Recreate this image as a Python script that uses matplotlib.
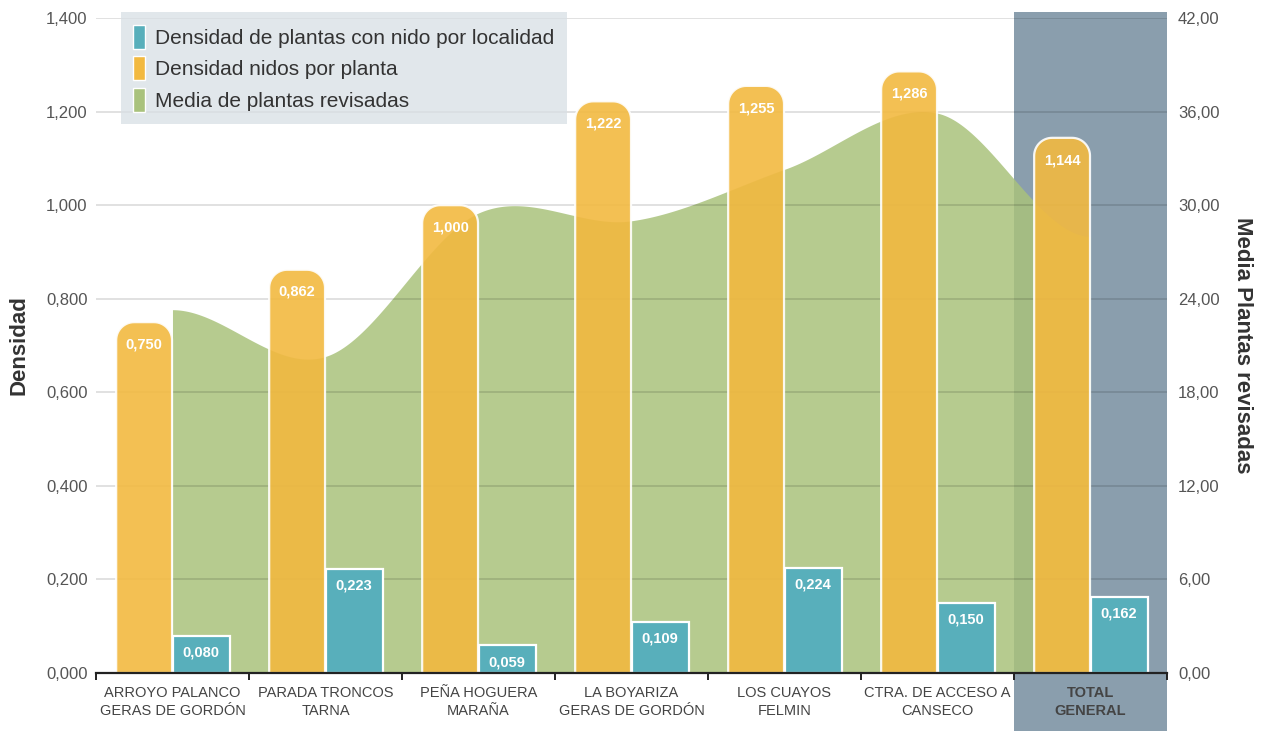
import numpy as np
import matplotlib
matplotlib.use("Agg")
import matplotlib.pyplot as plt
from matplotlib.patches import Patch, Polygon, Rectangle
import matplotlib.transforms as mtransforms

plt.rcParams['font.family'] = ['Liberation Sans', 'DejaVu Sans']

# data
localidades = ["ARROYO PALANCO\nGERAS DE GORDÓN", "PARADA TRONCOS\nTARNA",
               "PEÑA HOGUERA\nMARAÑA", "LA BOYARIZA\nGERAS DE GORDÓN",
               "LOS CUAYOS\nFELMIN", "CTRA. DE ACCESO A\nCANSECO", "TOTAL\nGENERAL"]
dens_localidad = [0.080, 0.223, 0.059, 0.109, 0.224, 0.150, 0.162]
dens_nidos = [0.750, 0.862, 1.000, 1.222, 1.255, 1.286, 1.144]
media_plantas = [23.3, 20.3, 29.5, 29.0, 32.3, 35.9, 28.0]
left_ticks = [0.0, 0.2, 0.4, 0.6, 0.8, 1.0, 1.2, 1.4]
right_ticks = [0, 6, 12, 18, 24, 30, 36, 42]

c_blue = "#58afbb"
c_orange = "#f2b940"
c_green = "#a9c27c"
c_band = "#8a9ead"
c_text = "#555555"


def smooth(x, y, n=60):
    # cubic hermite through the points, flat at both ends
    x = np.asarray(x, float)
    y = np.asarray(y, float)
    m = np.zeros_like(y)
    m[1:-1] = (y[2:] - y[:-2]) / (x[2:] - x[:-2])
    xs, ys = [], []
    for i in range(len(x) - 1):
        t = np.linspace(0, 1, n)
        h = x[i + 1] - x[i]
        h00 = 2 * t**3 - 3 * t**2 + 1
        h10 = t**3 - 2 * t**2 + t
        h01 = -2 * t**3 + 3 * t**2
        h11 = t**3 - t**2
        xs.append(x[i] + t * h)
        ys.append(h00 * y[i] + h10 * h * m[i] + h01 * y[i + 1] + h11 * h * m[i + 1])
    return np.concatenate(xs), np.concatenate(ys)


def rounded_bar(ax, x0, w, h, r_px, **kw):
    (px0, py0), (px1, py1) = ax.transData.transform([(0, 0), (1, 1)])
    rx = min(r_px / (px1 - px0), w / 2)
    ry = r_px / (py1 - py0)
    t = np.linspace(0, np.pi / 2, 16)
    right = np.column_stack([x0 + w - rx + rx * np.cos(t), h - ry + ry * np.sin(t)])
    left = np.column_stack([x0 + rx - rx * np.sin(t), h - ry + ry * np.cos(t)])
    verts = np.vstack([[(x0, 0), (x0 + w, 0)], right, left])
    ax.add_patch(Polygon(verts, closed=True, **kw))


fig = plt.figure(figsize=(12.73, 7.31), dpi=100)
ax_media = fig.add_axes([0.0754, 0.0793, 0.8413, 0.896])
ax_dens = ax_media.twinx()
ax_media.yaxis.tick_right()
ax_media.yaxis.set_label_position("right")
ax_dens.yaxis.tick_left()
ax_dens.yaxis.set_label_position("left")

n = len(localidades)
x = np.arange(n)
ax_media.set_xlim(-0.5, n - 0.5)
ax_media.set_ylim(0, 42)
ax_dens.set_ylim(0, 1.4)

# total column band
band_tr = mtransforms.blended_transform_factory(ax_media.transData, ax_media.transAxes)
ax_media.add_patch(Rectangle((n - 1.5, -0.09), 1, 1.1, transform=band_tr,
                             facecolor=c_band, edgecolor="none", clip_on=False, zorder=0.5))

# green area
sx, sy = smooth(x, media_plantas)
ax_media.fill_between(sx, 0, sy, color=c_green, alpha=0.85, linewidth=0, zorder=1)

# gridlines on top of the area
for v in right_ticks[1:]:
    ax_media.axhline(v, color="black", alpha=0.13, linewidth=1.3, zorder=1.5)

# bars
w = 0.365
for i in x:
    rounded_bar(ax_dens, i - w - 0.003, w, dens_nidos[i], 18,
                facecolor=c_orange, alpha=0.9, edgecolor="white", linewidth=1.6, zorder=2)
    ax_dens.add_patch(Rectangle((i + 0.003, 0), w + 0.005, dens_localidad[i],
                                facecolor=c_blue, edgecolor="white", linewidth=1.6, zorder=2))
    ax_dens.annotate(f"{dens_nidos[i]:.3f}".replace(".", ","), (i - w / 2 - 0.003, dens_nidos[i]),
                     xytext=(0, -16), textcoords="offset points", ha="center", va="center",
                     color="white", fontsize=10.5, fontweight="bold", zorder=3)
    ax_dens.annotate(f"{dens_localidad[i]:.3f}".replace(".", ","), (i + w / 2 + 0.005, dens_localidad[i]),
                     xytext=(0, -12), textcoords="offset points", ha="center", va="center",
                     color="white", fontsize=10.5, fontweight="bold", zorder=3)

# axes styling
for a in (ax_media, ax_dens):
    for s in a.spines.values():
        s.set_visible(False)
ax_dens.spines["bottom"].set_visible(True)
ax_dens.spines["bottom"].set_color("#222222")
ax_dens.spines["bottom"].set_linewidth(1.6)
ax_dens.spines["bottom"].set_zorder(5)

ax_media.set_xticks(np.arange(n + 1) - 0.5)
ax_media.set_xticklabels([])
ax_media.tick_params(axis="x", which="major", length=5, width=1.4, color="#222222", direction="out")
ax_media.set_xticks(x, minor=True)
ax_media.set_xticklabels(localidades, minor=True, fontsize=10.5, color="#444444", linespacing=1.4)
ax_media.tick_params(axis="x", which="minor", length=0, pad=9)
ax_media.get_xticklabels(minor=True)[-1].set_fontweight("bold")

ax_dens.set_yticks(left_ticks)
ax_dens.set_yticklabels([f"{v:.3f}".replace(".", ",") for v in left_ticks])
ax_dens.tick_params(axis="y", length=0, pad=6, labelsize=12, labelcolor=c_text)
ax_media.set_yticks(right_ticks)
ax_media.set_yticklabels([f"{v:.2f}".replace(".", ",") for v in right_ticks])
ax_media.tick_params(axis="y", length=0, pad=8, labelsize=12, labelcolor=c_text)

ax_dens.set_ylabel("Densidad", fontsize=16, fontweight="bold", color="#333333", labelpad=12)
ax_media.set_ylabel("Media Plantas revisadas", fontsize=16, fontweight="bold", color="#333333",
                    rotation=270, labelpad=24)

handles = [Patch(facecolor=c_blue, edgecolor="white"),
           Patch(facecolor=c_orange, edgecolor="white"),
           Patch(facecolor=c_green, edgecolor="white")]
labels = ["Densidad de plantas con nido por localidad", "Densidad nidos por planta",
          "Media de plantas revisadas"]
leg = ax_dens.legend(handles, labels, loc="upper left", bbox_to_anchor=(0.0233, 1.009),
                     borderaxespad=0, fontsize=15, handlelength=0.55, handleheight=1.4,
                     handletextpad=0.5, labelspacing=0.36, frameon=True, fancybox=False,
                     borderpad=0.6)
leg.get_frame().set_facecolor("#d8dfe5")
leg.get_frame().set_alpha(0.75)
leg.get_frame().set_edgecolor("none")
for t in leg.get_texts():
    t.set_color("#333333")

fig.savefig("out.png", dpi=100)
